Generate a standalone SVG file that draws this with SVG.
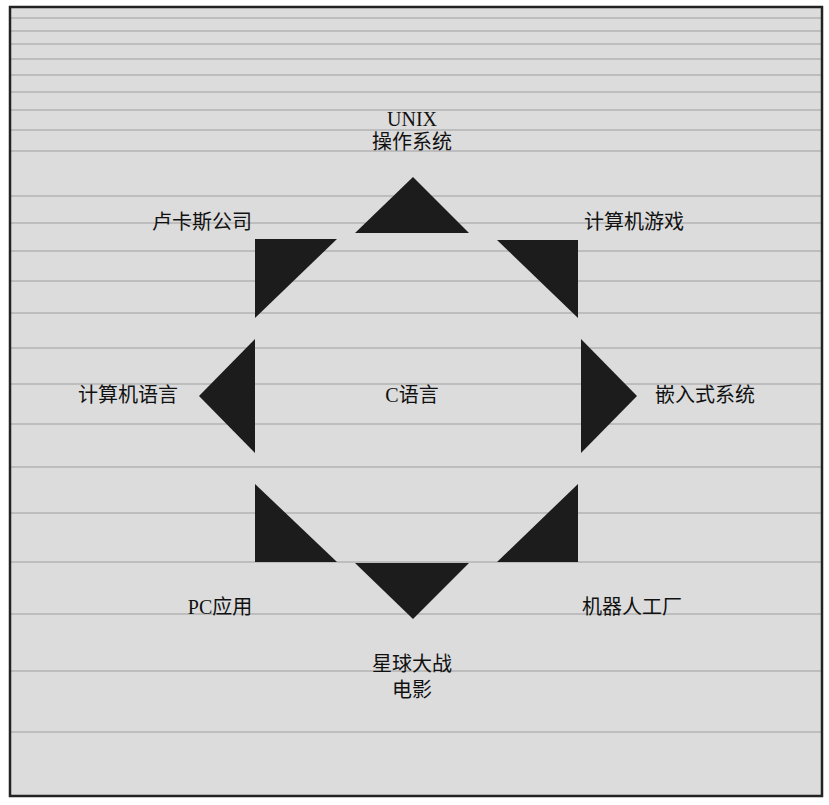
<svg xmlns="http://www.w3.org/2000/svg" width="829" height="805" viewBox="0 0 829 805">
<style>
.bg{fill:#dcdcdc}
.scan{stroke:#b2b2b2;stroke-width:1.5;fill:none}
.frame{fill:none;stroke:#222;stroke-width:2.5}
.tri{fill:#1c1c1c}
.lbl{font-family:"Liberation Serif","Noto Sans CJK SC",serif;font-size:20px;fill:#111;text-anchor:middle}
</style>
<rect x="0" y="0" width="829" height="805" fill="#ffffff"/>
<rect class="bg" x="10" y="7" width="812" height="789"/>
<g id="scanlines">
<path class="scan" d="M11 18H821M11 31H821M11 44H821M11 59H821M11 75H821M11 92H821M11 110H821M11 130H821M11 151H821M11 196H821M11 223H821M11 251H821M11 281H821M11 313H821M11 348H821M11 384H821M11 424H821M11 467H821M11 513H821M11 562H821M11 614H821M11 671H821M11 732H821"/>
</g>
<rect class="frame" x="10" y="7" width="812" height="789"/>
<g id="connectors">
<polygon class="tri" points="413,177 355,233 469,233"/>
<polygon class="tri" points="255,239 337,239 255,318"/>
<polygon class="tri" points="497,240 578,240 578,318"/>
<polygon class="tri" points="255,339 199,396 255,453"/>
<polygon class="tri" points="581,339 637,396 581,453"/>
<polygon class="tri" points="255,484 255,562 337,562"/>
<polygon class="tri" points="578,484 578,562 497,562"/>
<polygon class="tri" points="355,563 469,563 413,619"/>
</g>
<g id="n-unix"><text class="lbl" x="412" y="126">UNIX</text><text class="lbl" x="412" y="149">操作系统</text></g>
<g id="n-lucas"><text class="lbl" x="202" y="229">卢卡斯公司</text></g>
<g id="n-game"><text class="lbl" x="634" y="229">计算机游戏</text></g>
<g id="n-lang"><text class="lbl" x="128" y="402">计算机语言</text></g>
<g id="n-c"><text class="lbl" x="412" y="402">C语言</text></g>
<g id="n-embed"><text class="lbl" x="705" y="402">嵌入式系统</text></g>
<g id="n-pc"><text class="lbl" x="220" y="614">PC应用</text></g>
<g id="n-robot"><text class="lbl" x="632" y="614">机器人工厂</text></g>
<g id="n-starwars"><text class="lbl" x="412" y="671">星球大战</text><text class="lbl" x="412" y="697">电影</text></g>
</svg>
